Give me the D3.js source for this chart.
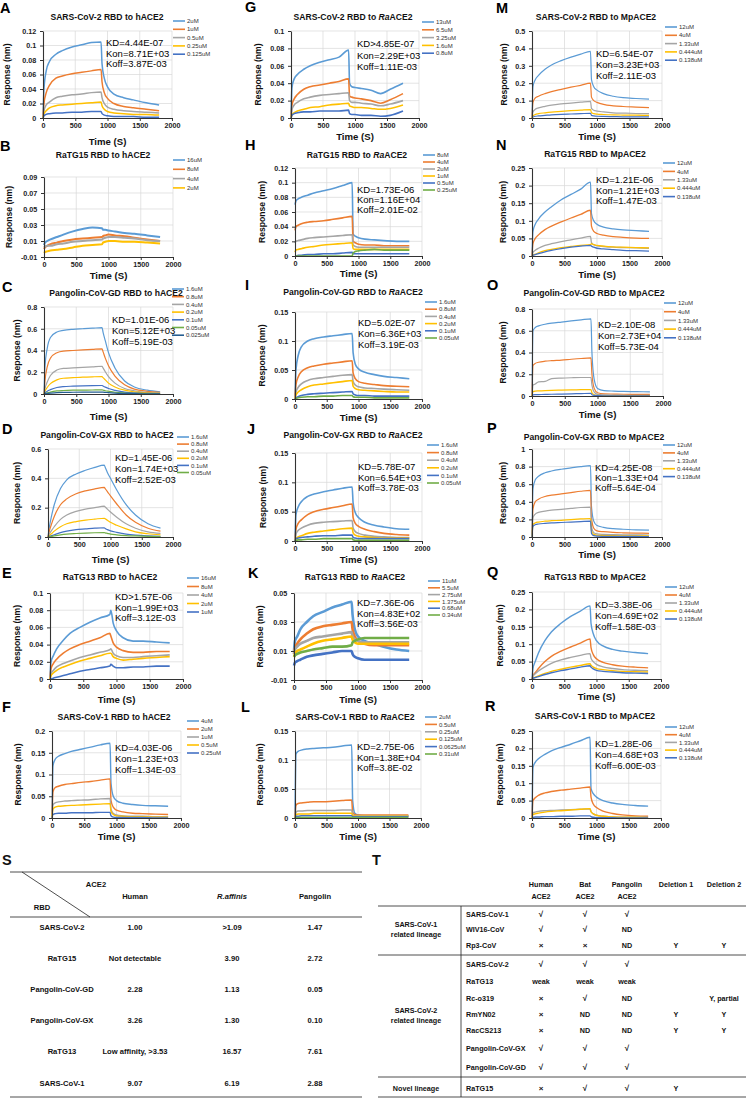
<!DOCTYPE html>
<html><head><meta charset="utf-8">
<script src="https://cdn.jsdelivr.net/npm/d3@7"></script>
<style>body{margin:0;background:#fff}svg{display:block}text{font-family:"Liberation Sans",Arial,sans-serif}</style>
</head><body><svg id="c" width="750" height="1099"></svg>
<script>
// ---------------- DATA ----------------
const times  = [0,15,50,100,200,300,450,600,750,900,915,950,1000,1100,1250,1400,1600,1800];
const timesG = [0,15,50,100,200,300,450,600,750,900,915,950,1000,1100,1250,1400,1550,1750];
const xTicks = [0,500,1000,1500,2000];
const colors = ["#5B9BD5","#ED7D31","#A5A5A5","#FFC000","#4472C4","#70AD47","#255E91"];

const titleA = "SARS-CoV-2 RBD to hACE2";
const ticksA = [0,0.02,0.04,0.06,0.08,0.1,0.12];
const legendA = ["2uM","1uM","0.5uM","0.25uM","0.125uM"];
const kinA = ["KD=4.44E-07","Kon=8.71E+03","Koff=3.87E-03"];
const seriesA = [
 [0,0.04,0.065,0.078,0.088,0.093,0.098,0.101,0.104,0.105,0.075,0.055,0.043,0.033,0.028,0.025,0.021,0.018],
 [0,0.02,0.035,0.045,0.055,0.058,0.061,0.063,0.065,0.067,0.05,0.035,0.027,0.02,0.016,0.014,0.012,0.01],
 [0,0.01,0.018,0.022,0.028,0.03,0.032,0.033,0.035,0.036,0.028,0.02,0.015,0.012,0.01,0.009,0.008,0.007],
 [0,0.006,0.01,0.014,0.017,0.018,0.019,0.02,0.021,0.022,0.017,0.012,0.009,0.007,0.006,0.005,0.005,0.004],
 [0,0.003,0.005,0.006,0.007,0.007,0.008,0.008,0.009,0.009,0.006,0.004,0.003,0.002,0.002,0.002,0.001,0.001]];

const titleB = "RaTG15 RBD to hACE2";
const ticksB = [-0.01,0.01,0.03,0.05,0.07,0.09];
const legendB = ["16uM","8uM","4uM","2uM"];
const kinB = [];
const seriesB = [
 [0.005,0.008,0.01,0.012,0.015,0.018,0.022,0.025,0.027,0.026,0.024,0.024,0.023,0.022,0.02,0.019,0.017,0.015],
 [0,0.002,0.004,0.006,0.008,0.01,0.012,0.013,0.014,0.015,0.016,0.017,0.018,0.017,0.016,0.014,0.012,0.01],
 [0.002,0.003,0.004,0.004,0.006,0.007,0.009,0.01,0.011,0.012,0.013,0.014,0.015,0.015,0.014,0.013,0.011,0.01],
 [-0.005,-0.004,-0.003,-0.002,-0.001,0,0.002,0.004,0.005,0.006,0.008,0.009,0.01,0.01,0.009,0.009,0.008,0.007]];

const titleC = "Pangolin-CoV-GD RBD to hACE2";
const ticksC = [0,0.2,0.4,0.6,0.8];
const legendC = ["1.6uM","0.8uM","0.4uM","0.2uM","0.1uM","0.05uM","0.025uM"];
const kinC = ["KD=1.01E-06","Kon=5.12E+03","Koff=5.19E-03"];
const seriesC = [
 [0,0.25,0.42,0.52,0.57,0.585,0.595,0.6,0.605,0.61,0.57,0.49,0.38,0.24,0.12,0.065,0.035,0.02],
 [0,0.12,0.25,0.33,0.38,0.395,0.4,0.405,0.41,0.415,0.39,0.33,0.26,0.165,0.085,0.045,0.025,0.015],
 [0,0.05,0.11,0.17,0.22,0.235,0.24,0.245,0.25,0.255,0.24,0.205,0.16,0.1,0.05,0.03,0.015,0.01],
 [0,0.025,0.06,0.095,0.13,0.145,0.15,0.155,0.158,0.16,0.15,0.13,0.1,0.065,0.035,0.02,0.01,0.007],
 [0,0.01,0.025,0.04,0.06,0.068,0.072,0.075,0.077,0.078,0.073,0.063,0.05,0.033,0.018,0.01,0.006,0.004],
 [0,0.005,0.01,0.018,0.028,0.032,0.035,0.036,0.037,0.038,0.036,0.03,0.025,0.016,0.009,0.005,0.003,0.002],
 [0,0.003,0.005,0.008,0.013,0.015,0.016,0.017,0.018,0.018,0.017,0.015,0.012,0.008,0.005,0.003,0.002,0.001]];

const titleD = "Pangolin-CoV-GX RBD to hACE2";
const ticksD = [0,0.2,0.4,0.6];
const legendD = ["1.6uM","0.8uM","0.4uM","0.2uM","0.1uM","0.05uM"];
const kinD = ["KD=1.45E-06","Kon=1.74E+03","Koff=2.52E-03"];
const seriesD = [
 [0,0.05,0.13,0.22,0.33,0.39,0.43,0.455,0.475,0.49,0.475,0.44,0.4,0.32,0.22,0.15,0.09,0.06],
 [0,0.03,0.08,0.14,0.22,0.26,0.295,0.315,0.328,0.338,0.33,0.31,0.28,0.225,0.15,0.1,0.06,0.04],
 [0,0.015,0.04,0.07,0.12,0.15,0.175,0.19,0.2,0.21,0.205,0.19,0.17,0.135,0.09,0.06,0.035,0.025],
 [0,0.008,0.02,0.04,0.07,0.09,0.105,0.115,0.122,0.128,0.124,0.115,0.1,0.08,0.055,0.035,0.022,0.015],
 [0,0.003,0.008,0.015,0.03,0.04,0.05,0.055,0.06,0.063,0.058,0.05,0.042,0.032,0.02,0.013,0.008,0.005],
 [0,0.002,0.004,0.008,0.015,0.02,0.024,0.027,0.029,0.03,0.028,0.025,0.02,0.015,0.01,0.007,0.004,0.003]];

const titleE = "RaTG13 RBD to hACE2";
const ticksE = [0,0.02,0.04,0.06,0.08,0.1];
const legendE = ["16uM","8uM","4uM","2uM","1uM"];
const kinE = ["KD>1.57E-06","Kon=1.99E+03","Koff=3.12E-03"];
const seriesE = [
 [0,0.02,0.027,0.035,0.045,0.053,0.06,0.066,0.071,0.075,0.08,0.065,0.056,0.048,0.044,0.044,0.043,0.042],
 [0,0.012,0.018,0.023,0.03,0.035,0.04,0.044,0.048,0.053,0.05,0.042,0.037,0.033,0.031,0.031,0.032,0.032],
 [0,0.006,0.01,0.014,0.018,0.021,0.025,0.028,0.031,0.034,0.035,0.03,0.027,0.025,0.025,0.026,0.027,0.028],
 [0,0.004,0.007,0.01,0.014,0.017,0.021,0.024,0.027,0.03,0.03,0.026,0.024,0.022,0.023,0.024,0.025,0.026],
 [0,0,0.001,0.002,0.004,0.006,0.009,0.011,0.013,0.015,0.017,0.015,0.013,0.013,0.014,0.014,0.015,0.015]];

const titleF = "SARS-CoV-1 RBD to hACE2";
const ticksF = [0,0.05,0.1,0.15,0.2];
const legendF = ["4uM","2uM","1uM","0.5uM","0.25uM"];
const kinF = ["KD=4.03E-06","Kon=1.23E+03","Koff=1.34E-03"];
const seriesF = [
 [0,0.12,0.135,0.142,0.148,0.153,0.158,0.163,0.168,0.172,0.08,0.05,0.04,0.034,0.031,0.029,0.028,0.027],
 [0,0.06,0.07,0.073,0.077,0.079,0.082,0.084,0.087,0.09,0.04,0.025,0.018,0.014,0.011,0.01,0.009,0.008],
 [0,0.03,0.035,0.037,0.039,0.04,0.041,0.042,0.044,0.045,0.02,0.01,0.007,0.005,0.004,0.004,0.003,0.003],
 [0,0.02,0.025,0.027,0.028,0.029,0.03,0.031,0.032,0.033,0.015,0.008,0.005,0.004,0.003,0.003,0.002,0.002],
 [0,0.008,0.01,0.011,0.011,0.012,0.012,0.012,0.013,0.013,0.005,0.002,0.001,0.001,0.001,0.001,0,0]];

const titleG = "SARS-CoV-2 RBD to RaACE2";
const ticksG = [0,0.02,0.04,0.06,0.08,0.1];
const legendG = ["13uM","6.5uM","3.25uM","1.6uM","0.8uM"];
const kinG = ["KD>4.85E-07","Kon=2.29E+03","Koff=1.11E-03"];
const seriesG = [
 [0,0.035,0.045,0.05,0.056,0.06,0.064,0.067,0.07,0.078,0.04,0.036,0.035,0.034,0.032,0.028,0.033,0.04],
 [0,0.015,0.022,0.027,0.033,0.036,0.038,0.04,0.042,0.045,0.025,0.024,0.023,0.022,0.02,0.017,0.021,0.028],
 [0,0.01,0.015,0.018,0.022,0.024,0.026,0.027,0.028,0.029,0.02,0.018,0.018,0.017,0.016,0.014,0.016,0.02],
 [0,0.004,0.006,0.008,0.01,0.012,0.013,0.015,0.016,0.017,0.014,0.013,0.012,0.012,0.011,0.01,0.011,0.015],
 [0,0.003,0.005,0.006,0.007,0.007,0.008,0.008,0.008,0.009,0.005,0.004,0.004,0.003,0.003,0.002,0.003,0.008]];

const titleH = "RaTG15 RBD to RaACE2";
const ticksH = [0,0.02,0.04,0.06,0.08,0.1,0.12];
const legendH = ["8uM","4uM","2uM","1uM","0.5uM","0.25uM"];
const kinH = ["KD=1.73E-06","Kon=1.16E+04","Koff=2.01E-02"];
const seriesH = [
 [0.07,0.075,0.078,0.08,0.083,0.086,0.089,0.092,0.096,0.1,0.03,0.027,0.025,0.023,0.022,0.021,0.02,0.02],
 [0.035,0.04,0.042,0.044,0.046,0.047,0.048,0.05,0.052,0.054,0.02,0.018,0.016,0.015,0.015,0.014,0.014,0.014],
 [0.018,0.02,0.021,0.022,0.024,0.025,0.026,0.027,0.028,0.029,0.015,0.013,0.012,0.012,0.012,0.012,0.012,0.012],
 [0.005,0.008,0.009,0.01,0.012,0.013,0.015,0.016,0.017,0.018,0.01,0.009,0.009,0.009,0.009,0.009,0.009,0.009],
 [0,0,0.001,0.001,0.002,0.002,0.003,0.003,0.004,0.005,0.003,0.003,0.003,0.003,0.003,0.003,0.003,0.003],
 [0,0,0,0,0,0,0,0,0,0,0.004,0.006,0.007,0.008,0.009,0.008,0.008,0.008]];

const titleI = "Pangolin-CoV-GD RBD to RaACE2";
const ticksI = [0,0.05,0.1,0.15];
const legendI = ["1.6uM","0.8uM","0.4uM","0.2uM","0.1uM","0.05uM"];
const kinI = ["KD=5.02E-07","Kon=6.36E+03","Koff=3.19E-03"];
const seriesI = [
 [0,0.05,0.075,0.09,0.1,0.104,0.107,0.109,0.111,0.113,0.08,0.06,0.052,0.046,0.042,0.039,0.037,0.035],
 [0,0.025,0.038,0.047,0.054,0.057,0.06,0.062,0.064,0.066,0.045,0.035,0.03,0.027,0.025,0.023,0.022,0.021],
 [0,0.012,0.02,0.026,0.032,0.035,0.037,0.039,0.041,0.042,0.03,0.024,0.021,0.019,0.018,0.017,0.016,0.015],
 [0,0.007,0.012,0.016,0.021,0.024,0.026,0.028,0.03,0.032,0.022,0.018,0.016,0.015,0.014,0.013,0.012,0.012],
 [0,0.002,0.004,0.006,0.008,0.009,0.01,0.011,0.012,0.013,0.009,0.007,0.006,0.006,0.005,0.005,0.005,0.005],
 [0,0.001,0.002,0.003,0.004,0.004,0.005,0.005,0.006,0.006,0.004,0.003,0.003,0.003,0.002,0.002,0.002,0.002]];

const titleJ = "Pangolin-CoV-GX RBD to RaACE2";
const ticksJ = [0,0.05,0.1,0.15];
const legendJ = ["1.6uM","0.8uM","0.4uM","0.2uM","0.1uM","0.05uM"];
const kinJ = ["KD=5.78E-07","Kon=6.54E+03","Koff=3.78E-03"];
const seriesJ = [
 [0,0.045,0.058,0.067,0.076,0.08,0.084,0.087,0.09,0.092,0.065,0.048,0.04,0.032,0.027,0.024,0.021,0.02],
 [0,0.02,0.03,0.036,0.045,0.05,0.054,0.057,0.06,0.063,0.04,0.03,0.025,0.02,0.016,0.013,0.011,0.01],
 [0,0.012,0.018,0.022,0.027,0.03,0.032,0.033,0.034,0.035,0.022,0.016,0.013,0.01,0.008,0.007,0.006,0.006],
 [0,0.004,0.007,0.009,0.013,0.015,0.017,0.019,0.021,0.022,0.014,0.01,0.008,0.007,0.006,0.005,0.005,0.005],
 [0,0.004,0.005,0.006,0.007,0.008,0.009,0.009,0.01,0.01,0.006,0.005,0.004,0.004,0.004,0.004,0.004,0.004],
 [0,0.001,0.002,0.002,0.003,0.003,0.004,0.004,0.004,0.004,0.002,0.001,0.001,0.001,0.001,0.001,0.001,0.001]];

const titleK = "RaTG13 RBD to RaACE2";
const ticksK = [-0.01,0.01,0.03,0.05];
const legendK = ["11uM","5.5uM","2.75uM","1.375uM","0.68uM","0.34uM"];
const kinK = ["KD=7.36E-06","Kon=4.83E+02","Koff=3.56E-03"];
const seriesK = [
 [0.01,0.017,0.02,0.025,0.03,0.034,0.037,0.04,0.042,0.044,0.035,0.025,0.02,0.017,0.015,0.013,0.011,0.01],
 [0.008,0.012,0.015,0.018,0.022,0.025,0.027,0.028,0.029,0.03,0.025,0.02,0.017,0.015,0.014,0.014,0.014,0.014],
 [0.008,0.011,0.013,0.015,0.017,0.019,0.02,0.021,0.022,0.023,0.02,0.018,0.017,0.016,0.016,0.016,0.016,0.016],
 [0.006,0.008,0.01,0.011,0.013,0.015,0.017,0.018,0.019,0.02,0.018,0.016,0.015,0.015,0.015,0.015,0.015,0.015],
 [0,0.002,0.003,0.004,0.006,0.007,0.008,0.009,0.01,0.01,0.008,0.006,0.005,0.004,0.004,0.004,0.004,0.004],
 [0.006,0.007,0.008,0.009,0.01,0.011,0.012,0.013,0.013,0.014,0.016,0.017,0.018,0.019,0.019,0.019,0.019,0.019]];

const titleL = "SARS-CoV-1 RBD to RaACE2";
const ticksL = [0,0.05,0.1,0.15];
const legendL = ["2uM","0.5uM","0.25uM","0.125uM","0.0625uM","0.31uM"];
const kinL = ["KD=2.75E-06","Kon=1.38E+04","Koff=3.8E-02"];
const seriesL = [
 [0,0.11,0.115,0.117,0.119,0.12,0.121,0.122,0.124,0.126,0.03,0.008,0.005,0.004,0.004,0.004,0.004,0.004],
 [0,0.022,0.025,0.026,0.027,0.028,0.028,0.029,0.03,0.031,0.01,0.006,0.005,0.005,0.005,0.005,0.005,0.005],
 [0,0.01,0.012,0.012,0.013,0.013,0.013,0.013,0.014,0.014,0.006,0.004,0.004,0.004,0.004,0.004,0.004,0.004],
 [0,0.006,0.007,0.007,0.007,0.008,0.008,0.008,0.008,0.008,0.004,0.003,0.003,0.003,0.003,0.003,0.003,0.003],
 [0,0.003,0.003,0.004,0.004,0.004,0.004,0.004,0.004,0.004,0.002,0.002,0.002,0.002,0.002,0.002,0.002,0.002],
 [0,0.001,0.001,0.001,0.001,0.001,0.001,0.001,0.001,0.001,0.001,0.001,0.001,0.001,0.001,0.001,0.001,0.001]];

const titleM = "SARS-CoV-2 RBD to MpACE2";
const ticksM = [0,0.1,0.2,0.3,0.4,0.5];
const legendM = ["12uM","4uM","1.33uM","0.444uM","0.138uM"];
const kinM = ["KD=6.54E-07","Kon=3.23E+03","Koff=2.11E-03"];
const seriesM = [
 [0,0.18,0.22,0.245,0.28,0.305,0.33,0.35,0.367,0.383,0.22,0.18,0.16,0.14,0.125,0.117,0.112,0.108],
 [0,0.09,0.115,0.125,0.14,0.152,0.165,0.177,0.188,0.2,0.12,0.1,0.09,0.078,0.07,0.066,0.063,0.06],
 [0,0.035,0.05,0.058,0.067,0.074,0.081,0.086,0.091,0.096,0.055,0.045,0.04,0.035,0.03,0.028,0.026,0.025],
 [0,0.012,0.02,0.025,0.03,0.034,0.038,0.042,0.045,0.048,0.03,0.025,0.022,0.02,0.018,0.017,0.016,0.015],
 [0,0.005,0.01,0.012,0.015,0.018,0.021,0.023,0.025,0.027,0.015,0.012,0.01,0.009,0.008,0.007,0.007,0.006]];

const titleN = "RaTG15 RBD to MpACE2";
const ticksN = [0,0.05,0.1,0.15,0.2,0.25];
const legendN = ["12uM","4uM","1.33uM","0.444uM","0.138uM"];
const kinN = ["KD=1.21E-06","Kon=1.21E+03","Koff=1.47E-03"];
const seriesN = [
 [0,0.07,0.09,0.105,0.125,0.14,0.16,0.175,0.19,0.21,0.12,0.1,0.09,0.082,0.077,0.074,0.072,0.07],
 [0,0.035,0.05,0.06,0.075,0.085,0.097,0.108,0.118,0.13,0.085,0.07,0.064,0.059,0.055,0.053,0.051,0.05],
 [0,0.01,0.016,0.022,0.03,0.035,0.041,0.046,0.051,0.056,0.038,0.032,0.029,0.027,0.025,0.024,0.023,0.022],
 [0,0.003,0.005,0.009,0.015,0.019,0.024,0.027,0.03,0.032,0.035,0.032,0.03,0.028,0.026,0.025,0.024,0.023],
 [0,0.002,0.004,0.007,0.012,0.016,0.021,0.025,0.028,0.03,0.028,0.025,0.022,0.02,0.018,0.016,0.015,0.014]];

const titleO = "Pangolin-CoV-GD RBD to MpACE2";
const ticksO = [0,0.2,0.4,0.6,0.8];
const legendO = ["12uM","4uM","1.33uM","0.444uM","0.138uM"];
const kinO = ["KD=2.10E-08","Kon=2.73E+04","Koff=5.73E-04"];
const seriesO = [
 [0,0.6,0.63,0.645,0.66,0.67,0.68,0.69,0.7,0.71,0.4,0.15,0.07,0.05,0.045,0.042,0.04,0.038],
 [0,0.28,0.3,0.31,0.32,0.325,0.33,0.338,0.345,0.35,0.2,0.07,0.03,0.02,0.018,0.016,0.015,0.015],
 [0,0.1,0.11,0.13,0.135,0.16,0.165,0.168,0.17,0.17,0.1,0.035,0.015,0.01,0.008,0.007,0.006,0.006],
 [0,0.04,0.045,0.047,0.05,0.052,0.054,0.056,0.058,0.06,0.03,0.012,0.006,0.004,0.004,0.003,0.003,0.003],
 [0,0.01,0.012,0.013,0.015,0.016,0.018,0.02,0.022,0.024,0.012,0.005,0.003,0.002,0.002,0.002,0.002,0.002]];

const titleP = "Pangolin-CoV-GX RBD to MpACE2";
const ticksP = [0,0.2,0.4,0.6,0.8,1];
const legendP = ["12uM","4uM","1.33uM","0.444uM","0.138uM"];
const kinP = ["KD=4.25E-08","Kon=1.33E+04","Koff=5.64E-04"];
const seriesP = [
 [0,0.55,0.65,0.69,0.73,0.75,0.77,0.785,0.8,0.81,0.35,0.18,0.13,0.11,0.095,0.088,0.082,0.078],
 [0,0.32,0.4,0.43,0.46,0.475,0.49,0.505,0.52,0.53,0.22,0.1,0.07,0.06,0.052,0.048,0.045,0.042],
 [0,0.22,0.26,0.28,0.295,0.305,0.315,0.325,0.335,0.34,0.12,0.05,0.035,0.03,0.027,0.025,0.024,0.023],
 [0,0.14,0.16,0.17,0.18,0.185,0.19,0.198,0.205,0.21,0.07,0.03,0.02,0.017,0.015,0.014,0.013,0.012],
 [0,0.12,0.14,0.148,0.155,0.16,0.165,0.17,0.175,0.18,0.04,0.015,0.01,0.008,0.007,0.006,0.006,0.005]];

const titleQ = "RaTG13 RBD to MpACE2";
const ticksQ = [0,0.05,0.1,0.15,0.2,0.25];
const legendQ = ["12uM","4uM","1.33uM","0.444uM","0.138uM"];
const kinQ = ["KD=3.38E-06","Kon=4.69E+02","Koff=1.58E-03"];
const seriesQ = [
 [0,0.03,0.05,0.075,0.11,0.135,0.16,0.18,0.195,0.21,0.16,0.13,0.11,0.095,0.085,0.08,0.076,0.073],
 [0,0.01,0.018,0.03,0.05,0.065,0.08,0.092,0.103,0.115,0.09,0.07,0.058,0.048,0.041,0.037,0.034,0.032],
 [0,0.008,0.015,0.023,0.035,0.045,0.055,0.062,0.068,0.073,0.06,0.05,0.042,0.035,0.03,0.027,0.025,0.024],
 [0,0.002,0.005,0.009,0.016,0.022,0.028,0.034,0.039,0.044,0.04,0.034,0.03,0.027,0.024,0.022,0.021,0.02],
 [0,0.002,0.004,0.007,0.013,0.018,0.024,0.029,0.034,0.038,0.034,0.029,0.025,0.022,0.02,0.018,0.017,0.016]];

const titleR = "SARS-CoV-1 RBD to MpACE2";
const ticksR = [0,0.05,0.1,0.15,0.2,0.25];
const legendR = ["12uM","4uM","1.33uM","0.444uM","0.138uM"];
const kinR = ["KD=1.28E-06","Kon=4.68E+03","Koff=6.00E-03"];
const seriesR = [
 [0,0.145,0.16,0.17,0.183,0.193,0.203,0.212,0.222,0.232,0.085,0.07,0.06,0.05,0.043,0.039,0.036,0.034],
 [0,0.05,0.058,0.065,0.072,0.076,0.08,0.083,0.086,0.089,0.06,0.04,0.03,0.02,0.013,0.009,0.006,0.005],
 [0,0.015,0.017,0.019,0.021,0.022,0.023,0.024,0.025,0.026,0.018,0.012,0.008,0.005,0.003,0.002,0.002,0.002],
 [0,0.01,0.012,0.014,0.017,0.019,0.021,0.023,0.025,0.027,0.018,0.012,0.008,0.005,0.003,0.002,0.002,0.001],
 [0,0.002,0.003,0.003,0.004,0.004,0.005,0.005,0.006,0.006,0.004,0.002,0.001,0.001,0.001,0,0,0]];

// Table S
const sHeadCols = ["Human","R.affinis","Pangolin"];
const sRows = ["SARS-CoV-2","RaTG15","Pangolin-CoV-GD","Pangolin-CoV-GX","RaTG13","SARS-CoV-1"];
const sHuman = ["1.00","Not detectable","2.28","3.26","Low affinity, >3.53","9.07"];
const sAffinis = [">1.09","3.90","1.13","1.30","16.57","6.19"];
const sPangolin = ["1.47","2.72","0.05","0.10","7.61","2.88"];
// Table T
const tHeadCols = [["Human","ACE2"],["Bat","ACE2"],["Pangolin","ACE2"],["Deletion 1"],["Deletion 2"]];
const tGroups = [["SARS-CoV-1","related lineage"],["SARS-CoV-2","related lineage"],["Novel lineage"]];
const tGroupSizes = [3,7,1];
const tViruses = ["SARS-CoV-1","WIV16-CoV","Rp3-CoV","SARS-CoV-2","RaTG13","Rc-o319","RmYN02","RacCS213","Pangolin-CoV-GX","Pangolin-CoV-GD","RaTG15"];
const tHuman = ["√","√","×","√","weak","×","×","×","√","√","×"];
const tBat = ["√","√","×","√","weak","√","ND","ND","√","√","√"];
const tPangolin = ["√","ND","ND","√","weak","ND","ND","ND","√","√","√"];
const tDel1 = ["","","Y","","","","Y","Y","","","Y"];
const tDel2 = ["","","Y","","","Y, partial","Y","Y","","",""];

// ---------------- LAYOUT ----------------
const layout = {
 A:{x0:43,x1:172,yT:31,yB:118,tx:107,ty:17,kd:[106,43,10.5],lg:[173,21,8.3],yl:7,tm:142,lt:[0,8],sw:1.5},
 B:{x0:44,x1:173,yT:177,yB:257,tx:103,ty:155,kd:null,lg:[173,160,9.3],yl:9,tm:276,lt:[0,146],sw:2},
 C:{x0:44,x1:173,yT:307,yB:394,tx:116,ty:293,kd:[112,320,11],lg:[172,289,7.7],yl:17,tm:417,lt:[2,287],sw:1.2},
 D:{x0:48,x1:173,yT:449,yB:537,tx:107,ty:435,kd:[115,458,11],lg:[177,437,7.1],yl:17,tm:560,lt:[2,429],sw:1.2},
 E:{x0:50,x1:183,yT:593,yB:679,tx:110,ty:577,kd:[115,597,10.5],lg:[187,578,8.5],yl:17,tm:700,lt:[2,573],sw:1.6},
 F:{x0:52,x1:181,yT:731,yB:818,tx:114,ty:717,kd:[115,748,11],lg:[187,721,8],yl:18,tm:837,lt:[2,707],sw:1.4},
 G:{x0:291,x1:419,yT:31,yB:118,tx:353,ty:17,kd:[357,44,11.5],lg:[422,22,7.8],yl:258,tm:137,lt:[245,7],sw:1.6},
 H:{x0:295,x1:422,yT:168,yB:256,tx:357,ty:155,kd:[357,190,10],lg:[423,155,7],yl:262,tm:274,lt:[245,145],sw:1.6},
 I:{x0:295,x1:422,yT:312,yB:399,tx:353,ty:292,kd:[358,323,11],lg:[425,302,7.2],yl:262,tm:418,lt:[245,285],sw:1.6},
 J:{x0:295,x1:422,yT:453,yB:541,tx:353,ty:435,kd:[358,467,10.5],lg:[427,445,7.6],yl:263,tm:560,lt:[247,429],sw:1.6},
 K:{x0:294,x1:422,yT:593,yB:680,tx:355,ty:577,kd:[357,603,10.5],lg:[428,581,6.8],yl:260,tm:700,lt:[248,573],sw:2.6},
 L:{x0:295,x1:421,yT:731,yB:818,tx:355,ty:717,kd:[357,747,10.5],lg:[425,717,7.4],yl:260,tm:837,lt:[241,707],sw:1.5},
 M:{x0:532,x1:662,yT:31,yB:118,tx:596,ty:17,kd:[596,54,11],lg:[665,27,8.3],yl:504,tm:137,lt:[496,8],sw:1.2},
 N:{x0:532,x1:662,yT:168,yB:256,tx:595,ty:154,kd:[596,180,10.5],lg:[663,163,8.4],yl:503,tm:275,lt:[496,145],sw:1.3},
 O:{x0:532,x1:663,yT:309,yB:396,tx:594,ty:293,kd:[598,325,11],lg:[664,303,8.7],yl:503,tm:415,lt:[487,285],sw:1.2},
 P:{x0:532,x1:662,yT:449,yB:537,tx:594,ty:437,kd:[595,468,9.7],lg:[663,445,7.9],yl:503,tm:555,lt:[487,428],sw:1.2},
 Q:{x0:532,x1:661,yT:592,yB:679,tx:595,ty:577,kd:[595,605,11],lg:[665,587,8],yl:500,tm:697,lt:[487,572],sw:1.4},
 R:{x0:532,x1:661,yT:731,yB:818,tx:595,ty:716,kd:[595,744,11],lg:[665,727,7.7],yl:500,tm:837,lt:[485,706],sw:1.4}
};

const panels = [
 {id:"A",title:titleA,ticks:ticksA,legend:legendA,kin:kinA,series:seriesA,times:times},
 {id:"B",title:titleB,ticks:ticksB,legend:legendB,kin:kinB,series:seriesB,times:times},
 {id:"C",title:titleC,ticks:ticksC,legend:legendC,kin:kinC,series:seriesC,times:times,ylabel:"Rseponse (nm)"},
 {id:"D",title:titleD,ticks:ticksD,legend:legendD,kin:kinD,series:seriesD,times:times},
 {id:"E",title:titleE,ticks:ticksE,legend:legendE,kin:kinE,series:seriesE,times:times},
 {id:"F",title:titleF,ticks:ticksF,legend:legendF,kin:kinF,series:seriesF,times:times},
 {id:"G",title:titleG,ticks:ticksG,legend:legendG,kin:kinG,series:seriesG,times:timesG},
 {id:"H",title:titleH,ticks:ticksH,legend:legendH,kin:kinH,series:seriesH,times:times},
 {id:"I",title:titleI,ticks:ticksI,legend:legendI,kin:kinI,series:seriesI,times:times},
 {id:"J",title:titleJ,ticks:ticksJ,legend:legendJ,kin:kinJ,series:seriesJ,times:times},
 {id:"K",title:titleK,ticks:ticksK,legend:legendK,kin:kinK,series:seriesK,times:times},
 {id:"L",title:titleL,ticks:ticksL,legend:legendL,kin:kinL,series:seriesL,times:times},
 {id:"M",title:titleM,ticks:ticksM,legend:legendM,kin:kinM,series:seriesM,times:times},
 {id:"N",title:titleN,ticks:ticksN,legend:legendN,kin:kinN,series:seriesN,times:times},
 {id:"O",title:titleO,ticks:ticksO,legend:legendO,kin:kinO,series:seriesO,times:times},
 {id:"P",title:titleP,ticks:ticksP,legend:legendP,kin:kinP,series:seriesP,times:times},
 {id:"Q",title:titleQ,ticks:ticksQ,legend:legendQ,kin:kinQ,series:seriesQ,times:times},
 {id:"R",title:titleR,ticks:ticksR,legend:legendR,kin:kinR,series:seriesR,times:times}
];

// ---------------- DRAW ----------------
const svg = d3.select("#c");
const fmt = d => String(+d.toFixed(4));

function titleText(sel, t){
  const parts = t.split("RaACE2");
  sel.append("tspan").text(parts[0]);
  if (parts.length > 1){ sel.append("tspan").attr("font-style","italic").text("Ra"); sel.append("tspan").text("ACE2"); }
}

function drawPanel(p){
  const L = layout[p.id];
  const x = d3.scaleLinear().domain([0,2000]).range([L.x0,L.x1]);
  const yt = p.ticks;
  const y = d3.scaleLinear().domain([yt[0], yt[yt.length-1]]).range([L.yB,L.yT]);
  const g = svg.append("g");
  g.selectAll(null).data(yt.slice(1)).join("line")
    .attr("x1",L.x0).attr("x2",L.x1).attr("y1",d=>y(d)).attr("y2",d=>y(d))
    .attr("stroke","#D9D9D9").attr("stroke-width",0.7);
  g.selectAll(null).data(xTicks.slice(1)).join("line")
    .attr("x1",d=>x(d)).attr("x2",d=>x(d)).attr("y1",L.yT).attr("y2",L.yB)
    .attr("stroke","#D9D9D9").attr("stroke-width",0.7);
  const line = d3.line().x(d=>x(d[0])).y(d=>y(d[1])).curve(d3.curveMonotoneX);
  p.series.forEach((s,i)=>{
    g.append("path").datum(s.map((v,j)=>[p.times[j],v])).attr("d",line)
      .attr("fill","none").attr("stroke",colors[i]).attr("stroke-width",L.sw).attr("stroke-linejoin","round");
  });
  const ax = g.append("g").attr("transform",`translate(0,${L.yB})`)
    .call(d3.axisBottom(x).tickValues(xTicks).tickSize(3).tickSizeOuter(0).tickFormat(d3.format("d")));
  const ay = g.append("g").attr("transform",`translate(${L.x0},0)`)
    .call(d3.axisLeft(y).tickValues(yt).tickSize(3).tickSizeOuter(0).tickFormat(fmt));
  [ax,ay].forEach(a=>{
    a.select(".domain").attr("stroke","#333").attr("stroke-width",1.1);
    a.selectAll(".tick line").attr("stroke","#333");
    a.selectAll("text").attr("font-size",7.2).attr("font-weight","bold").attr("fill","#222")
      .attr("font-family","'Liberation Sans',Arial,sans-serif");
  });
  ax.selectAll("text").attr("dy","0.6em");
  ay.selectAll("text").attr("dx","-0.1em");
  g.append("text").attr("x",L.tx).attr("y",L.ty).attr("dy","0.35em").attr("text-anchor","middle")
    .attr("font-size",8.6).attr("font-weight","bold").attr("fill","#111").call(s=>titleText(s,p.title));
  g.append("text").attr("transform",`translate(${L.yl},${(L.yT+L.yB)/2}) rotate(-90)`).attr("dy","0.35em")
    .attr("text-anchor","middle").attr("font-size",8.6).attr("font-weight","bold").attr("fill","#111")
    .text(p.ylabel || "Response (nm)");
  g.append("text").attr("x",(L.x0+L.x1)/2).attr("y",L.tm).attr("dy","0.35em").attr("text-anchor","middle")
    .attr("font-size",9.6).attr("font-weight","bold").attr("fill","#111").text("Time (S)");
  if (L.kd) p.kin.forEach((k,i)=>{
    g.append("text").attr("x",L.kd[0]).attr("y",L.kd[1]+i*L.kd[2]).attr("dy","0.35em")
      .attr("font-size",9.5).attr("fill","#000").text(k);
  });
  p.legend.forEach((lab,i)=>{
    const yy = L.lg[1]+i*L.lg[2];
    g.append("line").attr("x1",L.lg[0]).attr("x2",L.lg[0]+12).attr("y1",yy).attr("y2",yy)
      .attr("stroke",colors[i]).attr("stroke-width",1.6);
    g.append("text").attr("x",L.lg[0]+14).attr("y",yy).attr("dy","0.35em").attr("font-size",6)
      .attr("fill","#333").text(lab);
  });
  g.append("text").attr("x",L.lt[0]).attr("y",L.lt[1]).attr("dy","0.36em").attr("font-size",14.5)
    .attr("font-weight","bold").attr("fill","#000").text(p.id);
}
panels.forEach(drawPanel);

// ---------------- TABLE S ----------------
const ts = svg.append("g").attr("font-weight","bold").attr("font-size",7.6).attr("fill","#111");
ts.append("text").attr("x",2).attr("y",860).attr("dy","0.36em").attr("font-size",14.5).text("S");
const sColX = [135,232,315];
const sTop = 872, sHead = 917, sBot = 1097;
const sRowY = d3.scalePoint().domain(sRows).range([927,1083]);
[sTop,sHead,sBot].forEach(yy=>ts.append("line").attr("x1",10).attr("x2",362).attr("y1",yy).attr("y2",yy).attr("stroke","#222").attr("stroke-width",0.8));
ts.append("line").attr("x1",22).attr("y1",sTop).attr("x2",90).attr("y2",sHead).attr("stroke","#222").attr("stroke-width",0.8);
ts.append("text").attr("x",96).attr("y",884).attr("dy","0.35em").attr("text-anchor","middle").text("ACE2");
ts.append("text").attr("x",42).attr("y",907).attr("dy","0.35em").attr("text-anchor","middle").text("RBD");
sHeadCols.forEach((h,i)=>{
  const t = ts.append("text").attr("x",sColX[i]).attr("y",896).attr("dy","0.35em").attr("text-anchor","middle");
  if (h.startsWith("R.")) t.attr("font-style","italic");
  t.text(h);
});
sRows.forEach((r,i)=>{
  const yy = sRowY(r);
  [[62,r],[sColX[0],sHuman[i]],[sColX[1],sAffinis[i]],[sColX[2],sPangolin[i]]].forEach(([xx,v])=>{
    ts.append("text").attr("x",xx).attr("y",yy).attr("dy","0.35em").attr("text-anchor","middle").text(v);
  });
});

// ---------------- TABLE T ----------------
const tt = svg.append("g").attr("font-weight","bold").attr("font-size",7.2).attr("fill","#111");
tt.append("text").attr("x",372).attr("y",860).attr("dy","0.36em").attr("font-size",14.5).text("T");
const tColX = [541,585,627,676,724];
tHeadCols.forEach((h,i)=>{
  h.forEach((w,j)=>tt.append("text").attr("x",tColX[i]).attr("y",884+j*12).attr("dy","0.35em").attr("text-anchor","middle").text(w));
});
const tRowY = [914,929,945,964,981,998,1014,1030,1048,1067,1088];
const tLines = [906,955,1077,1097];
tLines.forEach(yy=>tt.append("line").attr("x1",378).attr("x2",746).attr("y1",yy).attr("y2",yy).attr("stroke","#222").attr("stroke-width",0.8));
tt.append("line").attr("x1",461).attr("x2",461).attr("y1",906).attr("y2",1097).attr("stroke","#222").attr("stroke-width",0.8);
let start = 0;
tGroups.forEach((grp,gi)=>{
  const rows = tRowY.slice(start,start+tGroupSizes[gi]);
  const cy = (rows[0]+rows[rows.length-1])/2;
  grp.forEach((w,j)=>tt.append("text").attr("x",416).attr("y",cy+(j-(grp.length-1)/2)*10).attr("dy","0.35em").attr("text-anchor","middle").text(w));
  start += tGroupSizes[gi];
});
tViruses.forEach((v,i)=>{
  const yy = tRowY[i];
  tt.append("text").attr("x",466).attr("y",yy).attr("dy","0.35em").text(v);
  [tHuman[i],tBat[i],tPangolin[i],tDel1[i],tDel2[i]].forEach((val,c)=>{
    if (val) tt.append("text").attr("x",tColX[c]).attr("y",yy).attr("dy","0.35em").attr("text-anchor","middle")
      .attr("font-size",(val==="√"||val==="×")?8:7.2).text(val);
  });
});
</script>
</body></html>
